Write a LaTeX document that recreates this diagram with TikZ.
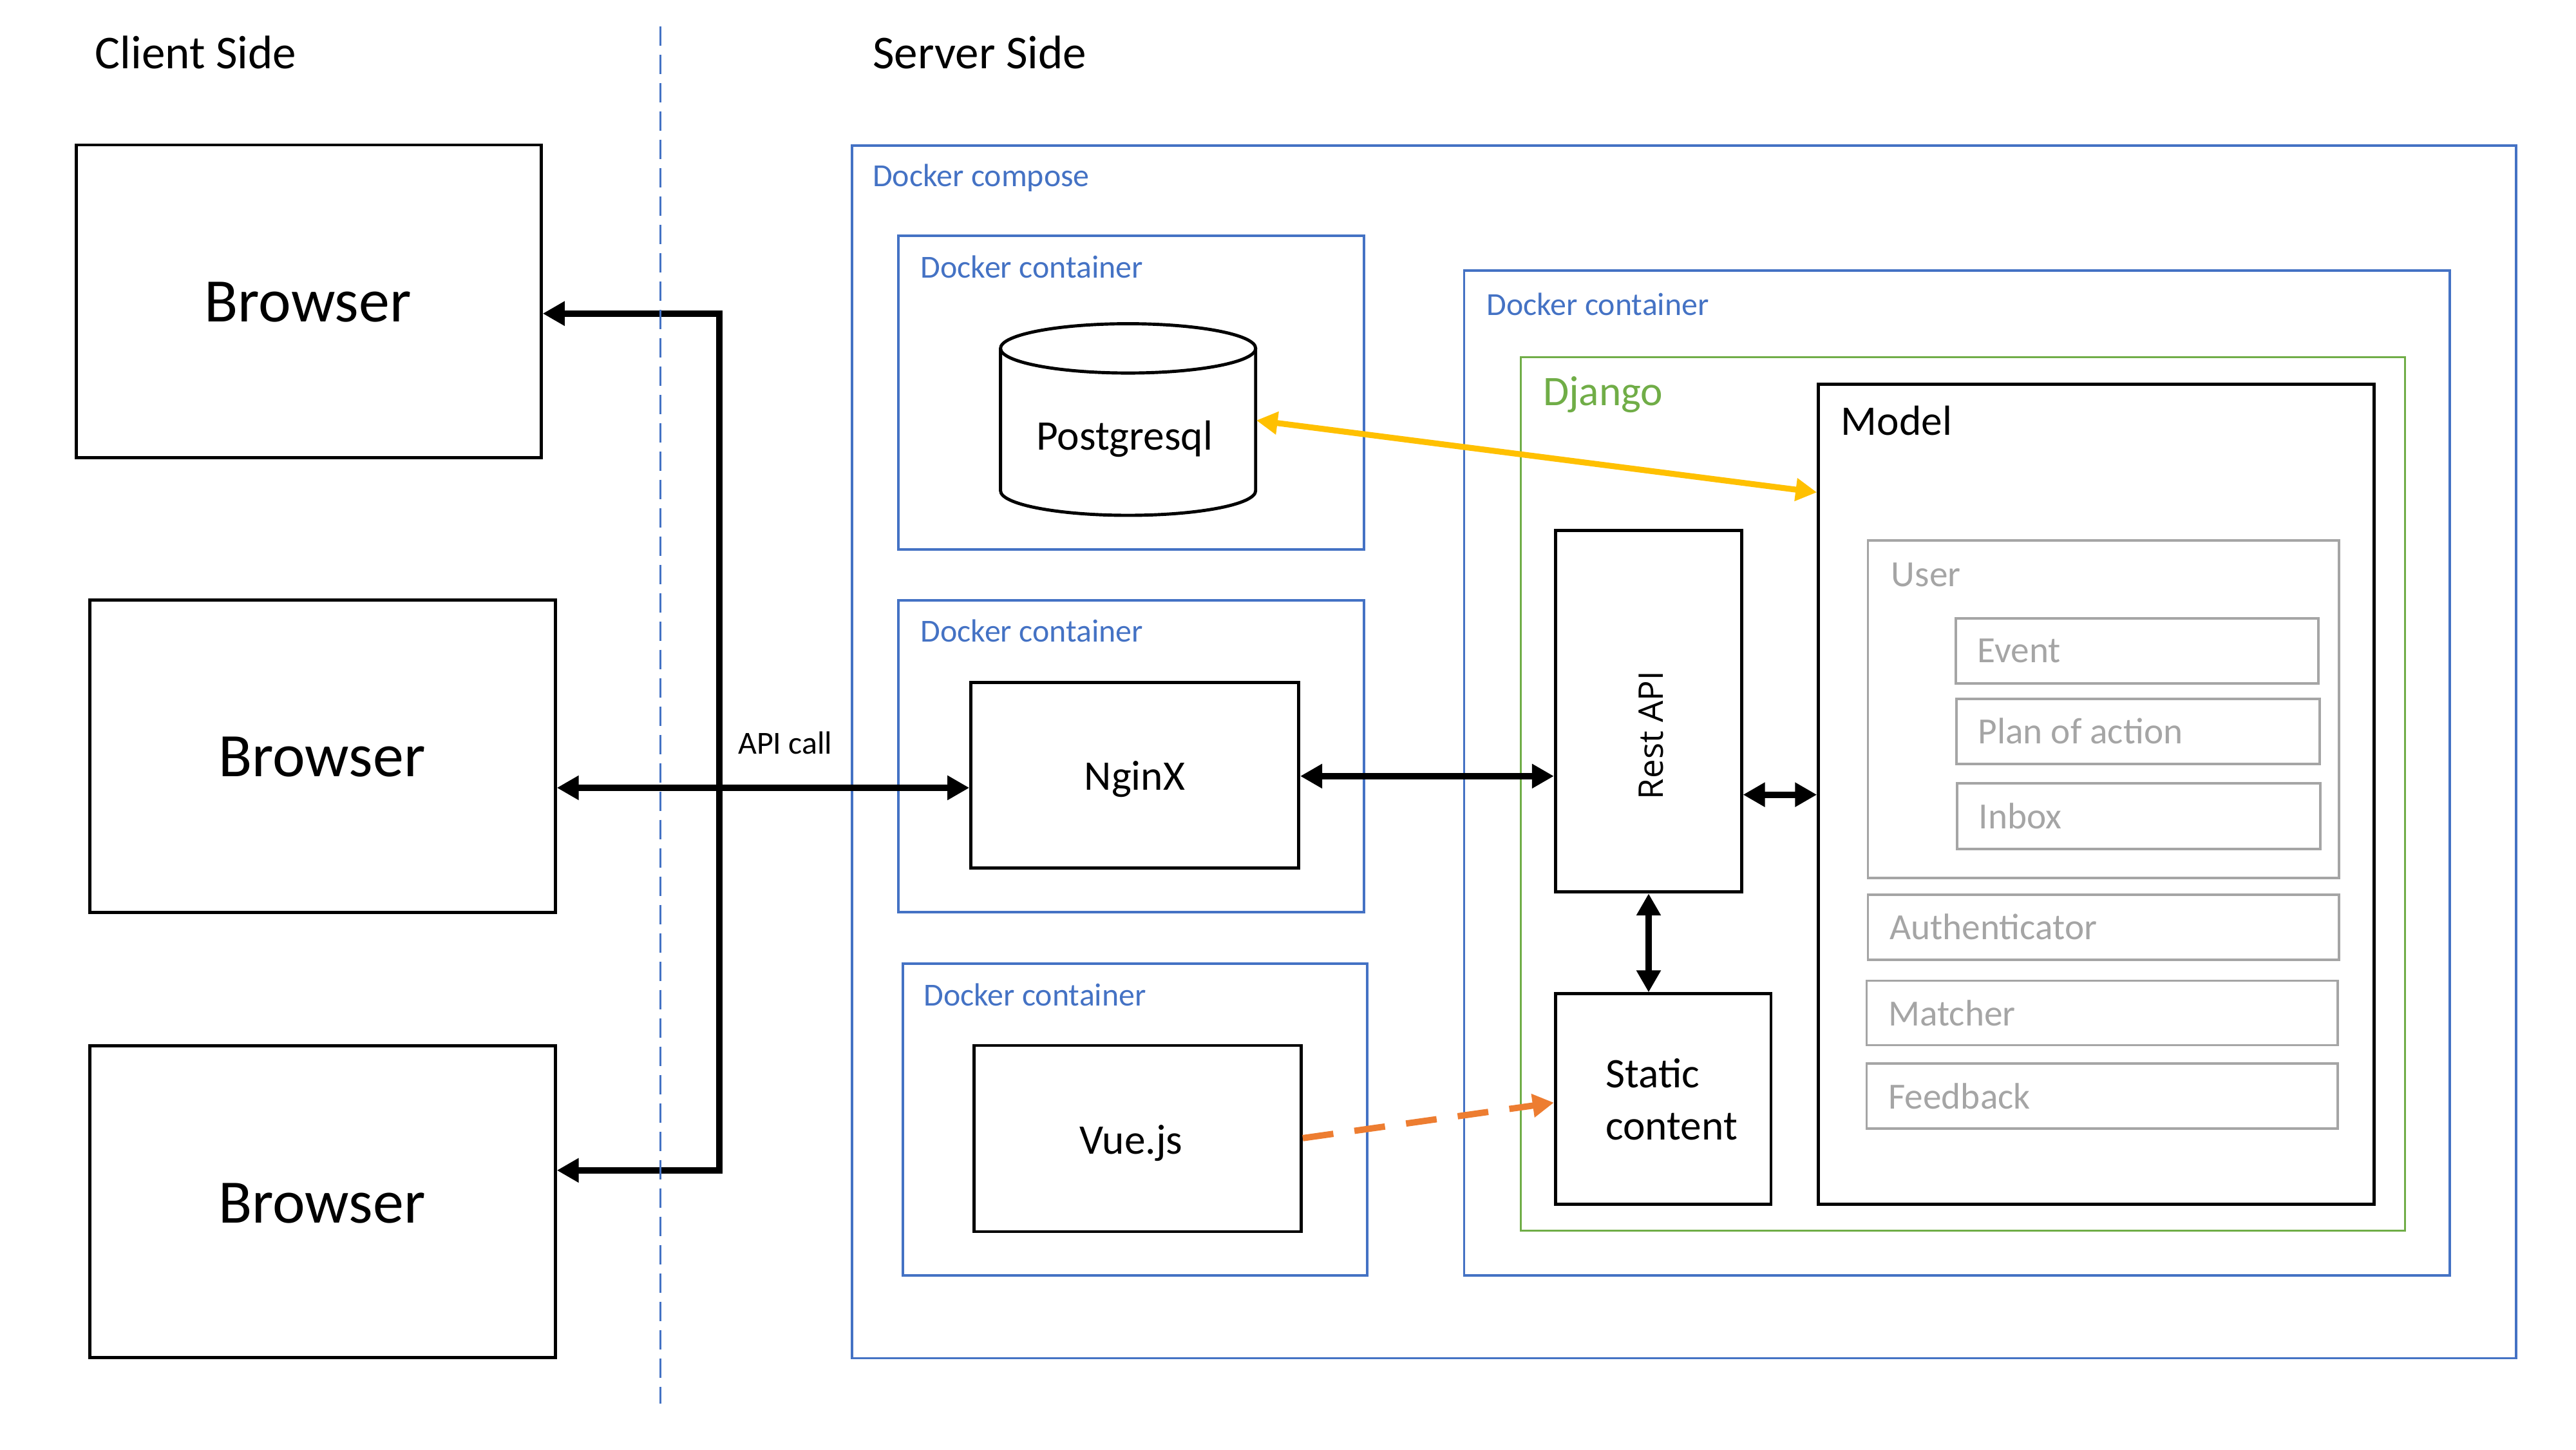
\documentclass[tikz,border=0pt]{standalone}
\usepackage{fontspec}
\setmainfont{Carlito}
\newfontfamily\restfont{Open Sans}
\usetikzlibrary{fit,arrows.meta}
\definecolor{dblue}{HTML}{4472C4}
\definecolor{dgreen}{HTML}{70AD47}
\definecolor{dgray}{HTML}{A5A5A5}
\definecolor{dyellow}{HTML}{FFC000}
\definecolor{dorange}{HTML}{ED7D31}
\newcommand{\fBrowser}{\fontsize{27.3pt}{32pt}\selectfont}
\newcommand{\fHead}{\fontsize{20.8pt}{25pt}\selectfont}
\newcommand{\fMid}{\fontsize{18.6pt}{23.2pt}\selectfont}
\newcommand{\fSmall}{\fontsize{14.2pt}{17pt}\selectfont}
\newcommand{\fGray}{\fontsize{16.3pt}{19pt}\selectfont}
\newcommand{\fApi}{\fontsize{14.2pt}{17pt}\selectfont}
\newcommand{\fRest}{\restfont\fontsize{15pt}{18pt}\selectfont}
\tikzset{
  blbox/.style={draw=dblue, line width=1.1pt, inner sep=0pt},
  grbox/.style={draw=dgreen, line width=0.9pt, inner sep=0pt},
  bkbox/.style={draw=black, line width=1.4pt, inner sep=0pt},
  gybox/.style={draw=dgray, line width=1.1pt, inner sep=0pt},
  bltxt/.style={text=dblue, font=\fSmall, anchor=base west, inner sep=0pt},
  gytxt/.style={text=dgray, font=\fGray, anchor=west, inner sep=0pt},
  ctxt/.style={anchor=base, inner sep=0pt},
  tip/.tip={Triangle[length=3.4mm,width=3.6mm]},
  biarr/.style={line width=2.85pt, tip-tip},
  yarr/.style={draw=dyellow, line width=2.6pt, {Triangle[length=3.3mm,width=3.4mm]}-{Triangle[length=3.3mm,width=3.4mm]}},
  oarr/.style={draw=dorange, line width=2.8pt, dash pattern=on 0.48cm off 0.33cm, -{Triangle[length=3.3mm,width=3.5mm]}},
}
\begin{document}
\begin{tikzpicture}[x=0.02551cm,y=-0.02551cm]
\useasboundingbox (0,0) rectangle (1568,882);

% headings
\node[font=\fHead, anchor=base west, inner sep=0pt] (client) at (57.6,41.6) {Client Side};
\node[font=\fHead, anchor=base west, inner sep=0pt] (server) at (531,41.6) {Server Side};

% browsers
\node[bkbox, fit={(46.4,88.2)(329.4,278.4)}] (br1) {};
\node[ctxt, font=\fBrowser] (tbr1) at (187.4,195.8) {Browser};
\node[bkbox, fit={(54.8,365.3)(338,555.3)}] (br2) {};
\node[ctxt, font=\fBrowser] (tbr2) at (196,472.6) {Browser};
\node[bkbox, fit={(54.8,636.3)(338,826.3)}] (br3) {};
\node[ctxt, font=\fBrowser] (tbr3) at (196,744.3) {Browser};

% docker compose
\node[blbox, fit={(518.6,88.6)(1531.6,826.5)}] (compose) {};
\node[bltxt] (lcompose) at (531,113.3) {Docker compose};

% container 1 : postgres
\node[blbox, fit={(547,143.6)(830.3,334.2)}] (dc1) {};
\node[bltxt] (ldc1) at (560.2,169.2) {Docker container};
\draw[line width=1.4pt] (609,212) -- (609,298.6) arc[start angle=180, end angle=0, x radius=77.65, y radius=15] -- (764.3,212);
\draw[line width=1.4pt] (686.65,212) ellipse [x radius=77.65, y radius=15];
\node[font=\fMid, inner sep=0pt] (pg) at (684.5,267) {Postgresql};
\coordinate (pgE) at (764.7,255.8);

% container 2 : nginx
\node[blbox, fit={(547,365.4)(830.3,555)}] (dc2) {};
\node[bltxt] (ldc2) at (560.2,390.6) {Docker container};
\node[bkbox, fit={(591,415.4)(790.5,528.3)}] (ngx) {};
\node[ctxt, font=\fMid] (tngx) at (690.7,480.7) {NginX};

% container 3 : vue
\node[blbox, fit={(549.7,586.4)(832.2,776.2)}] (dc3) {};
\node[bltxt] (ldc3) at (562,612) {Docker container};
\node[bkbox, fit={(592.9,636.2)(792,749.5)}] (vue) {};
\node[ctxt, font=\fMid] (tvue) at (688.5,702.1) {Vue.js};

% container 4 : django
\node[blbox, fit={(891.2,164.8)(1491,776)}] (dc4) {};
\node[bltxt] (ldc4) at (904.6,192) {Docker container};
\node[grbox, fit={(925.8,217.2)(1463.9,749)}] (django) {};
\node[text=dgreen, font=\fMid, anchor=base west, inner sep=0pt] (ldjango) at (939,246.8) {Django};

\node[bkbox, fit={(946.8,322.8)(1060,542.8)}] (rest) {};
\node[font=\fRest, rotate=90, inner sep=0pt] (lrest) at (1004.9,447.4) {Rest API};
\node[bkbox, fit={(946.8,604.8)(1078,732.8)}] (static) {};
\node[font=\fMid, align=left, inner sep=0pt] (lstatic) at (1017.5,669) {Static\\content};

\node[bkbox, fit={(1106.9,234)(1445,732.8)}] (model) {};
\node[font=\fMid, anchor=base west, inner sep=0pt] (lmodel) at (1120.4,264.8) {Model};

\node[gybox, fit={(1137,328.8)(1423.6,534.3)}] (user) {};
\node[text=dgray, font=\fGray, anchor=base west, inner sep=0pt] (luser) at (1151,356.8) {User};
\node[gybox, fit={(1190.4,376.3)(1411.3,416)}] (event) {};
\node[gytxt] (levent) at (1203.5,396.2) {Event};
\node[gybox, fit={(1190.8,425.2)(1412,464.8)}] (plan) {};
\node[gytxt] (lplan) at (1203.8,445) {Plan of action};
\node[gybox, fit={(1191.2,476.7)(1412.4,516.7)}] (inbox) {};
\node[gytxt] (linbox) at (1204.2,496.7) {Inbox};
\node[gybox, fit={(1137,544.4)(1423.6,584)}] (auth) {};
\node[gytxt] (lauth) at (1150,564.2) {Authenticator};
\node[gybox, fit={(1136.2,596.8)(1422.8,636)}] (match) {};
\node[gytxt] (lmatch) at (1149.2,616.4) {Matcher};
\node[gybox, fit={(1136.2,647.2)(1422.8,686.8)}] (feed) {};
\node[gytxt] (lfeed) at (1149.2,667) {Feedback};

% connectors
\draw[biarr] (br1.east |- 0,190.8) -| (438,712.2) -- (br3.east |- 0,712.2);
\draw[biarr] (br2.east |- 0,479.4) -- (ngx.west |- 0,479.4);
\node[font=\fApi, anchor=base west, inner sep=0pt] (api) at (449,459) {API call};
\draw[biarr] (ngx.east |- 0,472.3) -- (rest.west |- 0,472.3);
\draw[biarr] (rest.east |- 0,483.6) -- (model.west |- 0,483.6);
\draw[biarr] (rest.south -| 1003.5,0) -- (static.north -| 1003.5,0);
\draw[yarr] (pgE) -- (model.west |- 0,299.6);
\draw[oarr] (vue.east |- 0,692.6) -- (static.west |- 0,671);

% client / server separator
\coordinate (sepT) at (402,16);
\coordinate (sepB) at (402,854);
\draw[dblue, line width=0.85pt, dash pattern=on 0.30cm off 0.14cm] (sepT) -- (sepB);
\end{tikzpicture}
\end{document}
